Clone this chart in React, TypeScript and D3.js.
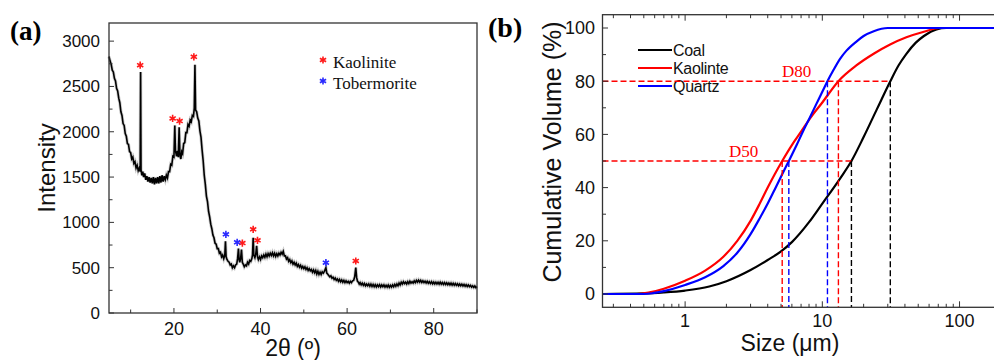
import * as d3 from "d3";

// ---- panel (a): XRD pattern, [2theta, intensity]
const xrd: [number, number][] = [
  [5.0,2830],[5.25,2780],[5.5,2745],[5.75,2680],[6.0,2660],[6.25,2590],[6.5,2560],[6.75,2480],[7.0,2450],[7.25,2370],
  [7.5,2320],[7.75,2220],[8.0,2180],[8.25,2090],[8.5,2070],[8.75,1980],[9.0,1950],[9.25,1870],[9.5,1860],[9.75,1780],
  [10.0,1770],[10.25,1700],[10.5,1720],[10.75,1650],[11.0,1670],[11.25,1600],[11.5,1630],[11.75,1570],[12.0,1600],[12.2,1560],
  [12.3,2660],[12.4,1580],[12.6,1520],[12.8,1560],[13.0,1500],[13.25,1540],[13.5,1470],[13.75,1510],[14.0,1450],[14.25,1500],
  [14.5,1440],[14.75,1490],[15.0,1430],[15.25,1500],[15.5,1420],[15.75,1490],[16.0,1430],[16.25,1500],[16.5,1430],[16.75,1510],
  [17.0,1440],[17.25,1520],[17.5,1450],[17.75,1510],[18.0,1470],[18.25,1520],[18.5,1490],[18.75,1560],[19.0,1560],[19.25,1640],
  [19.5,1630],[19.75,1730],[20.0,1720],[20.2,2070],[20.35,1790],[20.6,1730],[20.8,1790],[21.0,1720],[21.2,2050],[21.4,1730],
  [21.6,1700],[21.8,1780],[22.0,1760],[22.25,1870],[22.5,1880],[22.75,1990],[23.0,1990],[23.25,2080],[23.5,2060],[23.75,2130],
  [24.0,2110],[24.25,2180],[24.5,2170],[24.7,2260],[24.85,2740],[25.0,2240],[25.25,2220],[25.5,2150],[25.75,2120],[26.0,2010],
  [26.25,1940],[26.5,1800],[26.75,1680],[27.0,1520],[27.25,1420],[27.5,1290],[27.75,1230],[28.0,1120],[28.25,1060],[28.5,980],
  [28.75,930],[29.0,860],[29.25,830],[29.5,770],[29.75,760],[30.0,710],[30.25,710],[30.5,660],[30.75,670],[31.0,620],
  [31.25,640],[31.5,600],[31.75,640],[31.9,790],[32.05,620],[32.25,590],[32.5,570],[32.75,560],[33.0,530],[33.25,540],
  [33.5,500],[33.75,520],[34.0,500],[34.25,530],[34.5,540],[34.7,600],[34.9,710],[35.05,590],[35.2,560],[35.4,600],
  [35.6,700],[35.8,560],[36.0,540],[36.25,510],[36.5,530],[36.75,520],[37.0,560],[37.25,540],[37.5,580],[37.75,570],
  [38.0,600],[38.15,640],[38.3,830],[38.45,640],[38.7,610],[38.9,650],[39.1,740],[39.3,620],[39.5,590],[39.75,620],
  [40.0,590],[40.25,630],[40.5,610],[40.75,640],[41.0,615],[41.25,650],[41.5,620],[41.75,655],[42.0,630],[42.25,660],
  [42.5,635],[42.75,665],[43.0,630],[43.25,660],[43.5,625],[43.75,655],[44.0,630],[44.25,660],[44.5,640],[44.75,670],
  [45.0,650],[45.25,680],[45.5,630],[45.75,630],[46.0,595],[46.25,610],[46.5,570],[46.75,590],[47.0,555],[47.25,575],
  [47.5,540],[47.75,560],[48.0,530],[48.25,550],[48.5,515],[48.75,535],[49.0,505],[49.25,525],[49.5,495],[49.75,515],
  [50.0,490],[50.25,510],[50.5,480],[50.75,500],[51.0,470],[51.25,490],[51.5,465],[51.75,480],[52.0,450],[52.25,475],
  [52.5,445],[52.75,470],[53.0,430],[53.25,460],[53.5,425],[53.75,450],[54.0,425],[54.25,455],[54.5,440],[54.75,460],
  [55.1,500],[55.3,440],[55.5,430],[55.75,415],[56.0,400],[56.25,410],[56.5,385],[56.75,395],[57.0,370],[57.25,385],
  [57.5,360],[57.75,375],[58.0,350],[58.25,370],[58.5,345],[58.75,365],[59.0,340],[59.25,360],[59.5,335],[59.75,355],
  [60.0,335],[60.25,350],[60.5,330],[60.75,350],[61.0,335],[61.25,355],[61.5,360],[61.75,400],[62.0,500],[62.2,390],
  [62.4,350],[62.6,340],[62.8,320],[63.0,335],[63.25,310],[63.5,330],[63.75,305],[64.0,325],[64.25,300],[64.5,320],
  [64.75,300],[65.0,320],[65.25,295],[65.5,318],[65.75,292],[66.0,315],[66.25,290],[66.5,312],[66.75,288],[67.0,310],
  [67.25,290],[67.5,312],[67.75,288],[68.0,310],[68.25,290],[68.5,310],[68.75,285],[69.0,305],[69.25,285],[69.5,308],
  [69.75,283],[70.0,305],[70.25,285],[70.5,310],[70.75,290],[71.0,315],[71.25,295],[71.5,320],[71.75,300],[72.0,330],
  [72.25,310],[72.5,340],[72.75,320],[73.0,345],[73.25,325],[73.5,340],[73.75,320],[74.0,345],[74.25,325],[74.5,350],
  [74.75,330],[75.0,345],[75.25,330],[75.5,355],[75.75,335],[76.0,360],[76.25,340],[76.5,362],[76.75,340],[77.0,360],
  [77.25,338],[77.5,355],[77.75,335],[78.0,352],[78.25,332],[78.5,350],[78.75,328],[79.0,345],[79.25,325],[79.5,345],
  [79.75,322],[80.0,342],[80.25,320],[80.5,340],[80.75,320],[81.0,338],[81.25,318],[81.5,340],[81.75,318],[82.0,336],
  [82.25,316],[82.5,335],[82.75,314],[83.0,333],[83.25,312],[83.5,330],[83.75,310],[84.0,330],[84.25,308],[84.5,328],
  [84.75,306],[85.0,325],[85.25,305],[85.5,322],[85.75,302],[86.0,320],[86.25,300],[86.5,318],[86.75,298],[87.0,315],
  [87.25,295],[87.5,312],[87.75,292],[88.0,310],[88.25,290],[88.5,305],[88.75,285],[89.0,300],[89.25,282],[89.5,298],
  [89.75,280],[90.0,292],
];

const kaoliniteMarks: [number, number][] = [
  [12.2, 2735], [19.7, 2147], [21.3, 2118], [24.6, 2827],
  [35.8, 772], [38.3, 923], [39.3, 802], [62.0, 574],
];
const tobermoriteMarks: [number, number][] = [[32.0, 868], [34.6, 780], [55.1, 555]];

// ---- panel (b): cumulative volume, [size um, %]
const coal: [number, number][] = [
  [0.25,0],[0.5,0.2],[0.7,0.6],[1,1.3],[1.5,2.8],[2,4.8],[3,9],[4,12.8],[5,16],[6,19.5],[8,27],[10,34],
  [13.5,43.5],[16.3,50],[20,59],[25,69.5],[31.3,80],[36,86],[41,90.3],[48,94.5],[55,97],[68,99.5],[80,100],[300,100],
];
const kaolinite: [number, number][] = [
  [0.25,0],[0.45,0],[0.55,0.6],[0.7,2],[1,5],[1.4,8.8],[1.9,14],[2.4,20],[3,27.5],[3.5,34],[4,40],[4.5,45],
  [5.1,50],[6,56],[7,61],[8,65.5],[10,72],[13.1,80],[17.8,86],[24,90.5],[31.2,93.8],[41,96.5],[55,98.6],[72,100],[300,100],
];
const quartz: [number, number][] = [
  [0.25,0],[0.5,0],[0.58,0.3],[0.7,1.1],[1,3.4],[1.4,6.3],[1.9,10.5],[2.4,15.5],[3,22.5],[3.5,28.5],[4,34],[4.5,39.3],
  [5.1,45],[5.7,50],[6.5,56],[7.28,61.5],[8.1,66.3],[9,71.2],[10,76],[10.9,80],[12,84],[13.5,88.5],[15,91.5],[17.8,95],
  [20,97],[23.7,98.8],[30,100],[300,100],
];

const series = [
  { name: "Coal", color: "#000000", data: coal, d50: 16.3, d80: 31.3 },
  { name: "Kaolinte", color: "#ff0000", data: kaolinite, d50: 5.1, d80: 13.1 },
  { name: "Quartz", color: "#0000ff", data: quartz, d50: 5.7, d80: 10.9 },
];

const sans = "'Liberation Sans', Arial, sans-serif";
const serif = "'Liberation Serif', 'Times New Roman', serif";

export default function App() {
  const width = 994;
  const height = 360;

  // panel a
  const xa = d3.scaleLinear().domain([5, 90]).range([109, 477]);
  const ya = d3.scaleLinear().domain([0, 3200]).range([313, 23]);
  const xrdLine = d3.line<[number, number]>().x((d) => xa(d[0])).y((d) => ya(d[1]));
  const star = d3.symbol().type(d3.symbolAsterisk).size(36)() ?? "";

  const aXTicks = d3.range(10, 91, 10);
  const aYTicks = d3.range(0, 3201, 250);

  // panel b
  const xb = d3.scaleLog().domain([0.25, 300]).range([602.5, 1025]);
  const yb = d3.scaleLinear().domain([-5, 105]).range([307.3, 14.7]);
  const psdLine = d3
    .line<[number, number]>()
    .x((d) => xb(d[0]))
    .y((d) => yb(d[1]))
    .curve(d3.curveMonotoneX);
  const bXTicks = xb.ticks().filter((t) => t >= 0.25 && t <= 300);
  const isDecade = (t: number) => Math.abs(Math.log10(t) - Math.round(Math.log10(t))) < 1e-6;
  const bYTicks = d3.range(0, 101, 10);

  const [ax0, ax1] = xa.range();
  const [ay0, ay1] = ya.range();
  const [bx0, bx1] = xb.range();
  const [by0, by1] = yb.range();

  const xrdPath = xrdLine(xrd) ?? "";

  return (
    <svg
      width={width}
      height={height}
      style={{ position: "absolute", left: 0, top: 0, background: "#fff" }}
    >
      <rect width={width} height={height} fill="#fff" />

      {/* ---------- (a) ---------- */}
      <text x={10} y={40} fontFamily={serif} fontWeight="bold" fontSize={27}>(a)</text>
      <path d={xrdPath} fill="none" stroke="#aaa" strokeWidth={3.2} strokeOpacity={0.6} />
      <path d={xrdPath} fill="none" stroke="#000" strokeWidth={1.6} />
      <rect x={ax0} y={ay1} width={ax1 - ax0} height={ay0 - ay1} fill="none" stroke="#333" strokeWidth={1.3} />
      {aYTicks.map((t) => (
        <line key={"ay" + t} x1={ax0} x2={ax0 + (t % 500 === 0 ? 5 : 3.5)} y1={ya(t)} y2={ya(t)} stroke="#333" strokeWidth={1} />
      ))}
      {aYTicks.filter((t) => t % 500 === 0).map((t) => (
        <text key={"ayl" + t} x={100} y={ya(t)} dy="0.35em" textAnchor="end" fontFamily={sans} fontSize={17} fill="#111">
          {t}
        </text>
      ))}
      {aXTicks.map((t) => (
        <line key={"ax" + t} x1={xa(t)} x2={xa(t)} y1={ay0} y2={ay0 - (t % 20 === 0 ? 5 : 3.5)} stroke="#333" strokeWidth={1} />
      ))}
      {aXTicks.filter((t) => t % 20 === 0).map((t) => (
        <text key={"axl" + t} x={xa(t)} y={335} textAnchor="middle" fontFamily={sans} fontSize={18} fill="#111">
          {t}
        </text>
      ))}
      <text transform="translate(55,168) rotate(-90)" textAnchor="middle" fontFamily={sans} fontSize={24} fill="#111">
        Intensity
      </text>
      <text x={293} y={356} textAnchor="middle" fontFamily={sans} fontSize={23} fill="#111">2θ (º)</text>
      {kaoliniteMarks.map((d, i) => (
        <path key={"km" + i} d={star} transform={`translate(${xa(d[0])},${ya(d[1])})`} stroke="#ff1a1a" strokeWidth={1.6} fill="none" />
      ))}
      {tobermoriteMarks.map((d, i) => (
        <path key={"tm" + i} d={star} transform={`translate(${xa(d[0])},${ya(d[1])})`} stroke="#2a2aff" strokeWidth={1.6} fill="none" />
      ))}
      <path d={star} transform="translate(323,60)" stroke="#ff1a1a" strokeWidth={1.6} fill="none" />
      <text x={333} y={68} fontFamily={serif} fontSize={17} fill="#111">Kaolinite</text>
      <path d={star} transform="translate(323,81)" stroke="#2a2aff" strokeWidth={1.6} fill="none" />
      <text x={333} y={89} fontFamily={serif} fontSize={17} fill="#111">Tobermorite</text>

      {/* ---------- (b) ---------- */}
      <text x={488} y={37} fontFamily={serif} fontWeight="bold" fontSize={28}>(b)</text>
      <defs>
        <clipPath id="clipb">
          <rect x={bx0} y={by1} width={bx1 - bx0} height={by0 - by1} />
        </clipPath>
      </defs>

      {/* legend */}
      {series.map((s, i) => (
        <g key={"lg" + s.name} transform={`translate(0,${50 + i * 18})`}>
          <line x1={638} x2={672} y1={0} y2={0} stroke={s.color} strokeWidth={2} />
          <text x={673} y={5.5} fontFamily={sans} fontSize={16} fill="#111" letterSpacing={-0.3}>
            {s.name}
          </text>
        </g>
      ))}

      <g clipPath="url(#clipb)">
        {series.map((s) => (
          <path key={"c" + s.name} d={psdLine(s.data) ?? ""} fill="none" stroke={s.color} strokeWidth={2.2} />
        ))}
        {/* D50 / D80 guides */}
        <line x1={bx0} x2={xb(series[0].d50)} y1={yb(50)} y2={yb(50)} stroke="#ff0000" strokeWidth={1.4} strokeDasharray="6,3" />
        <line x1={bx0} x2={xb(series[0].d80)} y1={yb(80)} y2={yb(80)} stroke="#ff0000" strokeWidth={1.4} strokeDasharray="6,3" />
        {series.map((s) => (
          <g key={"v" + s.name}>
            <line x1={xb(s.d50)} x2={xb(s.d50)} y1={yb(50)} y2={by0} stroke={s.color} strokeWidth={1.4} strokeDasharray="6,3" />
            <line x1={xb(s.d80)} x2={xb(s.d80)} y1={yb(80)} y2={by0} stroke={s.color} strokeWidth={1.4} strokeDasharray="6,3" />
          </g>
        ))}
      </g>
      <text x={729} y={157} fontFamily={serif} fontSize={17} fill="#ff0000">D50</text>
      <text x={782} y={77} fontFamily={serif} fontSize={17} fill="#ff0000">D80</text>

      <rect x={bx0} y={by1} width={bx1 - bx0} height={by0 - by1} fill="none" stroke="#333" strokeWidth={1.3} />
      {bYTicks.map((t) => (
        <line key={"by" + t} x1={bx0} x2={bx0 + (t % 20 === 0 ? 5.5 : 3.5)} y1={yb(t)} y2={yb(t)} stroke="#333" strokeWidth={1} />
      ))}
      {bYTicks.filter((t) => t % 20 === 0).map((t) => (
        <text key={"byl" + t} x={595} y={yb(t)} dy="0.35em" textAnchor="end" fontFamily={sans} fontSize={18} fill="#111">
          {t}
        </text>
      ))}
      {bXTicks.map((t, i) => (
        <g key={"bx" + i}>
          <line x1={xb(t)} x2={xb(t)} y1={by0} y2={by0 - (isDecade(t) ? 6 : 3.5)} stroke="#333" strokeWidth={1} />
          <line x1={xb(t)} x2={xb(t)} y1={by1} y2={by1 + (isDecade(t) ? 6 : 3.5)} stroke="#333" strokeWidth={1} />
        </g>
      ))}
      {bXTicks.filter(isDecade).map((t) => (
        <text key={"bxl" + t} x={xb(t)} y={327} textAnchor="middle" fontFamily={sans} fontSize={18} fill="#111">
          {t}
        </text>
      ))}
      <text transform="translate(561,152) rotate(-90)" textAnchor="middle" fontFamily={sans} fontSize={25} fill="#111">
        Cumulative Volume (%)
      </text>
      <text x={790} y={351} textAnchor="middle" fontFamily={sans} fontSize={23} fill="#111">Size (μm)</text>
    </svg>
  );
}
